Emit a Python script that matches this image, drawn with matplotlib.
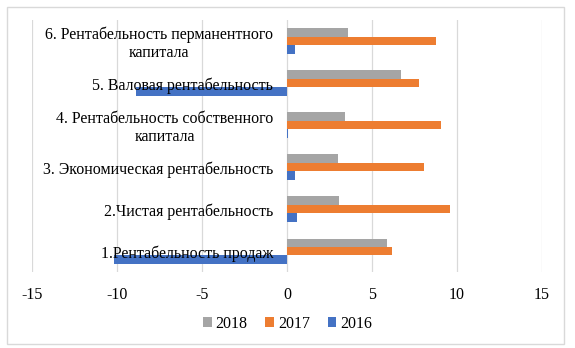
import matplotlib
matplotlib.use('Agg')

import numpy as np
import matplotlib.pyplot as plt
from matplotlib.patches import Rectangle

plt.rcParams['font.family'] = ['Liberation Serif', 'DejaVu Serif']
plt.rcParams['axes.unicode_minus'] = False

# показатели рентабельности, снизу вверх
kategorie = ['1.Рентабельность продаж',
             '2.Чистая рентабельность',
             '3. Экономическая рентабельность',
             '4. Рентабельность собственного\nкапитала',
             '5. Валовая рентабельность',
             '6. Рентабельность перманентного\nкапитала']
r2018 = [5.9, 3.05, 3.0, 3.4, 6.7, 3.6]
r2017 = [6.2, 9.6, 8.05, 9.05, 7.75, 8.75]
r2016 = [-10.2, 0.6, 0.45, 0.05, -8.9, 0.45]

kolory = {'2018': '#A5A5A5', '2017': '#ED7D31', '2016': '#4472C4'}

fig = plt.figure(figsize=(5.75, 3.48), dpi=100)
ax = fig.add_axes([0.0557, 0.218, 0.887, 0.7245])

y = np.arange(len(kategorie))
h = 0.2
ax.barh(y + h, r2018, height=h, color=kolory['2018'], label='2018', zorder=2)
ax.barh(y, r2017, height=h, color=kolory['2017'], label='2017', zorder=2)
ax.barh(y - h, r2016, height=h, color=kolory['2016'], label='2016', zorder=2)

ax.set_xlim(-15, 15)
ax.set_ylim(-0.5, len(kategorie) - 0.5)
ax.set_xticks([-15, -10, -5, 0, 5, 10, 15])
ax.set_yticks([])
ax.grid(axis='x', color='#D9D9D9', linewidth=0.9, zorder=0)
for s in ax.spines.values():
    s.set_visible(False)
ax.tick_params(axis='x', length=0, labelsize=11.5, pad=11, colors='black')

# подписи категорий рядом с нулевой осью
for yi, nazwa in zip(y, kategorie):
    ax.annotate(nazwa, xy=(0, yi), xytext=(-10, -2), textcoords='offset points',
                ha='right', va='center', multialignment='center',
                fontsize=11.5, linespacing=1.2, zorder=5)

ax.legend(loc='center', bbox_to_anchor=(0.5, 0.07), bbox_transform=fig.transFigure,
          ncol=3, frameon=False, fontsize=11.5, handlelength=0.55, handleheight=0.55,
          handletextpad=0.25, columnspacing=1.1)

fig.patches.append(Rectangle((7 / 575, 4 / 348), 557 / 575, 337 / 348,
                             transform=fig.transFigure, fill=False,
                             edgecolor='#D9D9D9', linewidth=1))

fig.savefig('out.png', dpi=100)
